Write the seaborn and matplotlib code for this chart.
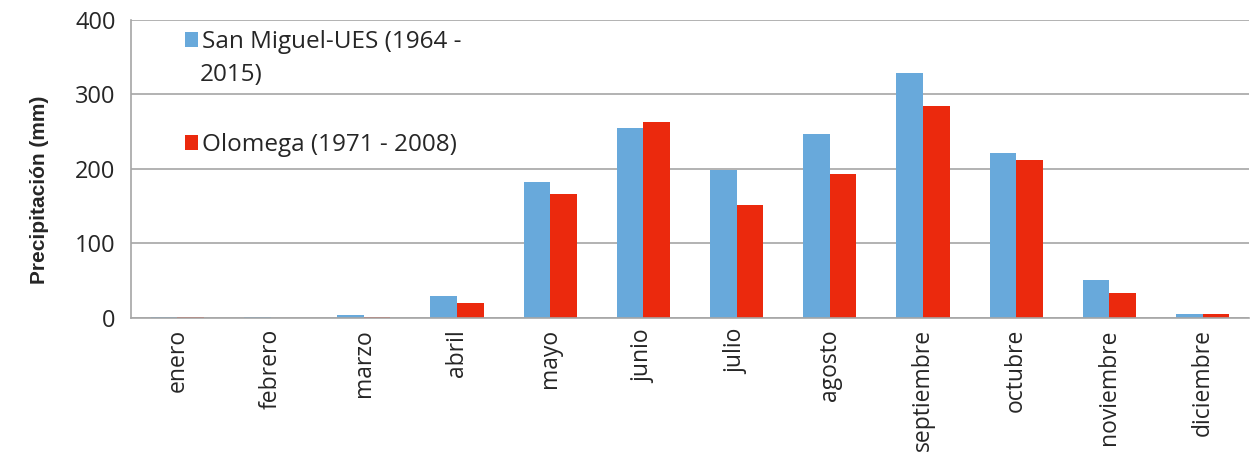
import pandas as pd
import matplotlib.pyplot as plt
import seaborn as sns
from matplotlib.patches import Patch

# Datos
meses = ['enero', 'febrero', 'marzo', 'abril', 'mayo', 'junio', 'julio',
         'agosto', 'septiembre', 'octubre', 'noviembre', 'diciembre']
san_miguel = [1, 1, 4, 30, 183, 255, 199, 247, 329, 222, 51, 6]
olomega = [1, 0, 1, 20, 167, 263, 152, 193, 284, 212, 33, 5]
series = ['San Miguel-UES (1964 - 2015)', 'Olomega (1971 - 2008)']
colores = ['#68A9DB', '#EB290D']

df = pd.DataFrame({
    'mes': meses * 2,
    'serie': [series[0]] * 12 + [series[1]] * 12,
    'valor': san_miguel + olomega,
})

sns.set_style('white')
plt.rcParams['font.family'] = ['Open Sans', 'DejaVu Sans']

fig = plt.figure(figsize=(12.58, 4.53), dpi=100)
ax = fig.add_axes([0.104, 0.298, 0.889, 0.658])

sns.barplot(data=df, x='mes', y='valor', hue='serie', order=meses, hue_order=series,
            palette=colores, width=0.57, gap=0, saturation=1, legend=False,
            linewidth=0, ax=ax)

ax.set_ylim(0, 400)
ax.set_xlim(-0.5, 11.5)
ax.set_yticks([0, 100, 200, 300, 400])
ax.yaxis.grid(True, color='#a6a6a6', linewidth=1.2)
ax.set_axisbelow(True)
for s in ['top', 'right']:
    ax.spines[s].set_visible(False)
for s in ['left', 'bottom']:
    ax.spines[s].set_color('#a6a6a6')
    ax.spines[s].set_linewidth(1.2)

ax.set_xticks(range(12))
ax.set_xticklabels(meses, rotation=90, fontsize=16.5)
ax.set_xticks([i - 0.5 for i in range(13)], minor=True)
ax.tick_params(axis='x', which='major', length=0, pad=8)
ax.tick_params(axis='x', which='minor', length=8, color='#a6a6a6', width=1.2)
ax.tick_params(axis='y', length=5, color='#a6a6a6', width=1.2, labelsize=17, pad=6)
ax.set_xlabel('')
ax.set_ylabel('Precipitación (mm)', fontsize=15, fontweight='bold',
              family=['Liberation Sans', 'DejaVu Sans'])
ax.yaxis.set_label_coords(-0.073, 0.43)

# leyenda: la etiqueta larga va partida en dos líneas como en el original
handles = [Patch(color=c, linewidth=0) for c in colores]
etiquetas = ['San Miguel-UES (1964 -', 'Olomega (1971 - 2008)']
leg = ax.legend(handles, etiquetas, loc='upper left', bbox_to_anchor=(0.048, 0.965),
                frameon=False, fontsize=17.5, handlelength=0.55, handleheight=0.55,
                handletextpad=0.15, labelspacing=3.25, borderpad=0, borderaxespad=0)
ax.text(0.0617, 0.815, '2015)', transform=ax.transAxes, fontsize=17.5,
        ha='left', va='center')

fig.savefig('out.png', dpi=100)
